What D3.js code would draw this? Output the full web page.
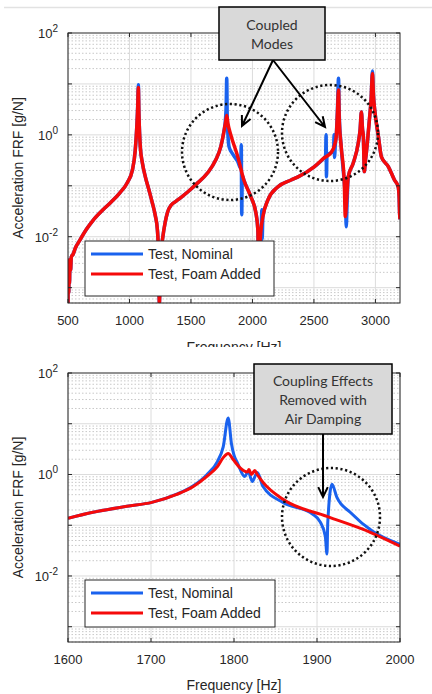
<html>

<body style="margin:0;background:#fff">
    <script src="https://d3js.org/d3.v7.min.js"></script>
    <div id="main"></div>

    <script>
        // frequency response values, [Hz, g/N]
        var topNominal = [
            [500, 5e-4], [503, 3e-3], [506, 8e-4], [509, 3.5e-3], [512, 1.2e-3], [516, 3.5e-3], [521, 2.2e-3], [527, 4e-3],
            [541, 4.5e-3], [560, 6e-3], [598, 8.7e-3], [650, 0.014], [704, 0.021], [780, 0.033], [843, 0.046], [920, 0.072],
            [982, 0.115], [1023, 0.2], [1047, 0.5], [1060, 1.5], [1067, 3.8], [1072, 9.6], [1077, 2.6], [1088, 0.58],
            [1105, 0.28], [1129, 0.15], [1160, 0.08], [1186, 0.046], [1210, 0.026], [1227, 0.0137], [1237, 0.004],
            [1243, 5e-4], [1250, 0.002], [1258, 0.0055], [1268, 0.0087], [1290, 0.019], [1309, 0.03], [1340, 0.042],
            [1380, 0.05], [1415, 0.058], [1480, 0.078], [1538, 0.105], [1636, 0.18], [1701, 0.32], [1742, 0.58],
            [1766, 1.1], [1782, 2.2], [1786, 3.5], [1791, 13], [1795, 2.2], [1810, 0.58], [1840, 0.42], [1880, 0.3],
            [1905, 0.22], [1909, 0.64], [1913, 0.027], [1917, 0.16], [1930, 0.13], [1987, 0.061], [2028, 0.0296],
            [2044, 0.0137], [2052, 8e-4], [2062, 0.005], [2072, 0.012], [2076, 0.034], [2079, 0.009], [2085, 0.025],
            [2126, 0.053], [2208, 0.096], [2314, 0.13], [2371, 0.15], [2502, 0.236], [2583, 0.354], [2595, 0.39],
            [2599, 1.0], [2602, 0.15], [2606, 0.4], [2640, 0.45], [2660, 0.5], [2664, 1.0], [2667, 0.36], [2675, 0.7],
            [2681, 0.91], [2692, 3.5], [2700, 13], [2706, 2.5], [2722, 0.58], [2747, 0.114], [2757, 0.05],
            [2763, 0.0157], [2770, 0.05], [2779, 0.15], [2820, 0.28], [2861, 0.7], [2876, 1.3], [2886, 2.8], [2895, 1.3],
            [2902, 0.91], [2910, 0.19], [2918, 0.3], [2926, 0.44], [2951, 1.97], [2965, 5], [2976, 18], [2984, 6],
            [2992, 3.5], [3025, 0.91], [3049, 0.37], [3106, 0.236], [3155, 0.13], [3185, 0.096], [3193, 0.06],
            [3197, 0.028], [3200, 0.022]
        ];
        var topFoam = [
            [500, 5e-4], [503, 3e-3], [506, 8e-4], [509, 3.5e-3], [512, 1.2e-3], [516, 3.5e-3], [521, 2.2e-3], [527, 4e-3],
            [541, 4.5e-3], [560, 6e-3], [598, 8.7e-3], [650, 0.014], [704, 0.021], [780, 0.033], [843, 0.046], [920, 0.072],
            [982, 0.115], [1023, 0.2], [1047, 0.5], [1060, 1.5], [1067, 3.5], [1072, 8.5], [1077, 2.5], [1088, 0.58],
            [1105, 0.28], [1129, 0.15], [1160, 0.08], [1186, 0.046], [1210, 0.026], [1227, 0.0137], [1237, 0.004],
            [1243, 5e-4], [1250, 0.002], [1258, 0.0055], [1268, 0.0087], [1290, 0.019], [1309, 0.03], [1340, 0.042],
            [1380, 0.05], [1415, 0.058], [1480, 0.078], [1538, 0.105], [1636, 0.18], [1701, 0.32], [1742, 0.58],
            [1766, 1.09], [1782, 1.8], [1791, 2.4], [1800, 1.7], [1824, 1.0], [1881, 0.37], [1930, 0.13], [1987, 0.061],
            [2028, 0.0296], [2044, 0.0137], [2052, 9e-4], [2060, 0.006], [2070, 0.014], [2085, 0.025], [2126, 0.053],
            [2208, 0.096], [2314, 0.13], [2371, 0.15], [2502, 0.236], [2583, 0.354], [2640, 0.45], [2665, 0.6],
            [2681, 0.91], [2692, 3], [2700, 7.6], [2706, 2], [2722, 0.58], [2747, 0.114], [2755, 0.025], [2763, 0.04],
            [2779, 0.15], [2820, 0.28], [2861, 0.7], [2876, 1.3], [2886, 2.8], [2895, 1.3], [2902, 0.91], [2910, 0.19],
            [2918, 0.3], [2926, 0.44], [2951, 1.97], [2965, 5], [2976, 16], [2984, 6], [2992, 3.5], [3025, 0.91],
            [3049, 0.37], [3106, 0.236], [3155, 0.13], [3185, 0.096], [3193, 0.06], [3197, 0.028], [3200, 0.022]
        ];
        var bottomNominal = [
            [1600, 0.137], [1630, 0.18], [1671, 0.236], [1701, 0.282], [1731, 0.41], [1751, 0.6], [1767, 0.98],
            [1780, 1.8], [1787, 3.5], [1793, 13], [1797, 4], [1800, 2.4], [1804, 1.72], [1813, 0.91], [1817, 1.15],
            [1822, 0.73], [1828, 1.09], [1835, 0.58], [1859, 0.28], [1895, 0.164], [1904, 0.115], [1910, 0.061],
            [1912, 0.027], [1913, 0.115], [1918, 0.64], [1924, 0.354], [1940, 0.18], [1967, 0.076], [2000, 0.042]
        ];
        var bottomFoam = [
            [1600, 0.137], [1630, 0.18], [1671, 0.236], [1701, 0.282], [1731, 0.405], [1751, 0.58], [1767, 0.91],
            [1780, 1.43], [1787, 2.15], [1793, 2.6], [1799, 1.97], [1807, 1.37], [1816, 1.12], [1818, 1.25],
            [1821, 1.0], [1825, 1.2], [1828, 1.0], [1835, 0.7], [1859, 0.324], [1912, 0.15], [1955, 0.0835],
            [2000, 0.0386]
        ];

        var topXTicks = [500, 1000, 1500, 2000, 2500, 3000];
        var bottomXTicks = [1600, 1700, 1800, 1900, 2000];
        var yTickExponents = [-2, 0, 2];
        var seriesNames = ["Test, Nominal", "Test, Foam Added"];
        var seriesColors = ["#1a62ee", "#f50a0a"];

        var W = 432, H = 694;
        var axisFont = "'Liberation Sans', Arial, sans-serif";
        var noteFont = "Lato, 'Open Sans', sans-serif";
        var ink = "#262626";

        var svg = d3.select("#main").append("svg")
            .attr("width", W).attr("height", H)
            .style("display", "block");

        // thin rule at the very top of the page
        svg.append("line")
            .attr("x1", 4).attr("x2", W).attr("y1", 7.5).attr("y2", 7.5)
            .attr("stroke", "#e2e2e2").attr("stroke-width", 1.5);

        function drawPanel(id, box, xDomain, xTicks, nominal, foam, legendBox, lw) {
            var x = d3.scaleLinear().domain(xDomain).range([box.left, box.right]);
            var y = d3.scaleLog().domain([5e-4, 100]).range([box.bottom, box.top]).clamp(true);
            var g = svg.append("g");

            svg.append("clipPath").attr("id", id)
                .append("rect")
                .attr("x", box.left).attr("y", box.top)
                .attr("width", box.right - box.left).attr("height", box.bottom - box.top);

            // minor log grid (dotted)
            var minors = [];
            for (var e = -4; e <= 1; e++) {
                for (var m = 2; m <= 9; m++) {
                    var v = m * Math.pow(10, e);
                    if (v >= 5e-4 && v < 100) minors.push(v);
                }
            }
            g.selectAll(".minor").data(minors).enter().append("line")
                .attr("x1", box.left).attr("x2", box.right)
                .attr("y1", function (d) { return y(d); }).attr("y2", function (d) { return y(d); })
                .attr("stroke", "#c8c8c8").attr("stroke-width", 1)
                .attr("stroke-dasharray", "1.5 2");

            // major grid
            var majors = [1e-3, 1e-2, 1e-1, 1, 10];
            g.selectAll(".major").data(majors).enter().append("line")
                .attr("x1", box.left).attr("x2", box.right)
                .attr("y1", function (d) { return y(d); }).attr("y2", function (d) { return y(d); })
                .attr("stroke", "#dcdcdc").attr("stroke-width", 1);
            g.selectAll(".vgrid").data(xTicks).enter().append("line")
                .attr("x1", function (d) { return x(d); }).attr("x2", function (d) { return x(d); })
                .attr("y1", box.top).attr("y2", box.bottom)
                .attr("stroke", "#dcdcdc").attr("stroke-width", 1);

            // curves
            var line = d3.line()
                .curve(d3.curveMonotoneX)
                .x(function (d) { return x(d[0]); })
                .y(function (d) { return y(d[1]); });
            var curves = g.append("g").attr("clip-path", "url(#" + id + ")");
            curves.append("path").datum(nominal)
                .attr("d", line).attr("fill", "none")
                .attr("stroke", seriesColors[0]).attr("stroke-width", lw)
                .attr("stroke-linejoin", "round");
            curves.append("path").datum(foam)
                .attr("d", line).attr("fill", "none")
                .attr("stroke", seriesColors[1]).attr("stroke-width", lw)
                .attr("stroke-linejoin", "round");

            // box and inward ticks
            g.append("rect")
                .attr("x", box.left).attr("y", box.top)
                .attr("width", box.right - box.left).attr("height", box.bottom - box.top)
                .attr("fill", "none").attr("stroke", ink).attr("stroke-width", 1);
            g.selectAll(".xt").data(xTicks).enter().append("path")
                .attr("d", function (d) {
                    return "M" + x(d) + "," + box.bottom + "v-4M" + x(d) + "," + box.top + "v4";
                })
                .attr("stroke", ink);
            g.selectAll(".yt").data(majors.concat([100])).enter().append("path")
                .attr("d", function (d) {
                    return "M" + box.left + "," + y(d) + "h4M" + box.right + "," + y(d) + "h-4";
                })
                .attr("stroke", ink);

            // tick labels
            g.selectAll(".xl").data(xTicks).enter().append("text")
                .attr("x", function (d) { return x(d); })
                .attr("y", box.bottom + 22)
                .attr("text-anchor", "middle")
                .style("font", "13px " + axisFont).attr("fill", ink)
                .text(function (d) { return d; });
            var yl = g.selectAll(".yl").data(yTickExponents).enter().append("text")
                .attr("x", box.left - 10)
                .attr("y", function (d) { return y(Math.pow(10, d)) + 5; })
                .attr("text-anchor", "end")
                .style("font", "13px " + axisFont).attr("fill", ink);
            yl.append("tspan").text("10");
            yl.append("tspan").attr("dy", -6).style("font-size", "10px")
                .text(function (d) { return d; });

            // axis titles
            var cy = (box.top + box.bottom) / 2;
            g.append("text")
                .attr("transform", "translate(23," + cy + ") rotate(-90)")
                .attr("text-anchor", "middle")
                .style("font", "14px " + axisFont).attr("fill", ink)
                .text("Acceleration FRF [g/N]");

            // legend
            var lg = g.append("g");
            lg.append("rect")
                .attr("x", legendBox.x).attr("y", legendBox.y)
                .attr("width", legendBox.w).attr("height", legendBox.h)
                .attr("fill", "#fff").attr("stroke", ink).attr("stroke-width", 1);
            seriesNames.forEach(function (name, i) {
                var ly = legendBox.y + legendBox.row0 + i * legendBox.step;
                lg.append("line")
                    .attr("x1", legendBox.x + 6).attr("x2", legendBox.x + 58)
                    .attr("y1", ly).attr("y2", ly)
                    .attr("stroke", seriesColors[i]).attr("stroke-width", 3);
                lg.append("text")
                    .attr("x", legendBox.x + 63).attr("y", ly + 5)
                    .style("font", "14px " + axisFont).attr("fill", ink)
                    .text(name);
            });
            return { x: x, y: y };
        }

        var topBox = { left: 68, right: 400, top: 33, bottom: 303 };
        var bottomBox = { left: 68, right: 400, top: 373, bottom: 642 };

        drawPanel("clipTop", topBox, [500, 3200], topXTicks, topNominal, topFoam,
            { x: 85, y: 241, w: 189, h: 55, row0: 13, step: 20 }, 3.5);
        drawPanel("clipBottom", bottomBox, [1600, 2000], bottomXTicks, bottomNominal, bottomFoam,
            { x: 85, y: 580, w: 190, h: 47, row0: 13, step: 20 }, 3);

        // x titles; the upper one is cut off by the lower figure
        svg.append("clipPath").attr("id", "cutTitle")
            .append("rect").attr("x", 0).attr("y", 300).attr("width", W).attr("height", 47);
        svg.append("text")
            .attr("clip-path", "url(#cutTitle)")
            .attr("x", 234).attr("y", 352)
            .attr("text-anchor", "middle")
            .style("font", "14px " + axisFont).attr("fill", ink)
            .text("Frequency [Hz]");
        svg.append("text")
            .attr("x", 234).attr("y", 690)
            .attr("text-anchor", "middle")
            .style("font", "14px " + axisFont).attr("fill", ink)
            .text("Frequency [Hz]");

        // annotations: dotted circles, arrows, callout boxes
        var circles = [[230, 152, 48], [330, 133, 48], [331, 517, 49]];
        svg.selectAll(".ring").data(circles).enter().append("circle")
            .attr("cx", function (d) { return d[0]; })
            .attr("cy", function (d) { return d[1]; })
            .attr("r", function (d) { return d[2]; })
            .attr("fill", "none").attr("stroke", "#111")
            .attr("stroke-width", 2.5).attr("stroke-dasharray", "2.2 2.6");

        var arrows = [[273, 60, 242, 126], [273, 60, 325, 127], [323, 434, 323, 497]];
        arrows.forEach(function (a) {
            var ang = Math.atan2(a[3] - a[1], a[2] - a[0]);
            var len = 11, spread = 0.45;
            var p1 = [a[2] - len * Math.cos(ang - spread), a[3] - len * Math.sin(ang - spread)];
            var p2 = [a[2] - len * Math.cos(ang + spread), a[3] - len * Math.sin(ang + spread)];
            svg.append("path")
                .attr("d", "M" + a[0] + "," + a[1] + "L" + a[2] + "," + a[3] +
                    "M" + p1[0] + "," + p1[1] + "L" + a[2] + "," + a[3] + "L" + p2[0] + "," + p2[1])
                .attr("fill", "none").attr("stroke", "#000").attr("stroke-width", 2);
        });

        var callouts = [
            { x: 219, y: 7, w: 106, h: 53, lines: ["Coupled", "Modes"], y0: 30, step: 19 },
            { x: 254, y: 364, w: 138, h: 70, lines: ["Coupling Effects", "Removed with", "Air Damping"], y0: 386, step: 19 }
        ];
        callouts.forEach(function (c) {
            svg.append("rect")
                .attr("x", c.x).attr("y", c.y).attr("width", c.w).attr("height", c.h)
                .attr("fill", "#d9d9d9").attr("stroke", "#000").attr("stroke-width", 1.5);
            c.lines.forEach(function (t, i) {
                svg.append("text")
                    .attr("x", c.x + c.w / 2).attr("y", c.y0 + i * c.step)
                    .attr("text-anchor", "middle")
                    .style("font", "14px " + noteFont).attr("fill", "#333")
                    .text(t);
            });
        });
    </script>
</body>

</html>
